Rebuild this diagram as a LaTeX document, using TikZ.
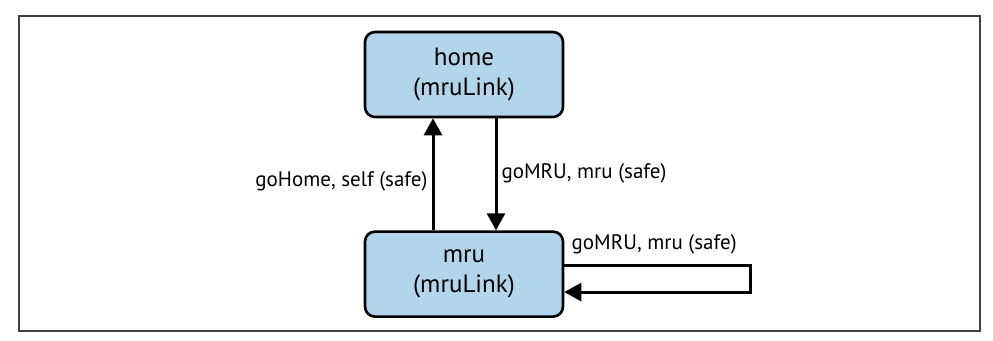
\documentclass[tikz,border=0pt]{standalone}
\usepackage{fontspec}
\setmainfont{PT Sans}
\usepackage{tikz}
\usetikzlibrary{arrows.meta,positioning}
\definecolor{statefill}{HTML}{B3D5EC}

\begin{document}
\begin{tikzpicture}[
  x=0.5pt, y=-0.5pt,
  node distance=56pt,
  state/.style={
    rectangle, draw, line width=1.3pt, rounded corners=5pt,
    fill=statefill, minimum width=99pt, minimum height=42.5pt,
    align=center, font=\fontsize{12.5}{15}\selectfont, inner sep=0pt
  },
  arrow/.style={-{Triangle[width=9pt,length=8.5pt]}, line width=1.5pt},
  label/.style={font=\fontsize{10.5}{12}\selectfont, inner sep=2pt}
]
% Frame and canvas
\useasboundingbox (0,0) rectangle (993,341);
\draw[line width=1pt, black!75] (19,16) rectangle (980,331);

% States
\node[state] (home) at (464,74.5) {home\\(mruLink)};
\node[state, below=of home] (mru) {mru\\(mruLink)};

% Arrows
\draw[arrow] ([xshift=-15.5pt]mru.north) -- ([xshift=-15.5pt]home.south)
  node[midway, left, label, yshift=-3.5pt] {goHome, self (safe)};
\draw[arrow] ([xshift=16pt]home.south) -- ([xshift=16pt]mru.north)
  node[midway, right, label, yshift=0.5pt] {goMRU, mru (safe)};

% Self loop on mru
\coordinate (loop) at (750,0);
\draw[arrow] ([yshift=4.5pt]mru.east) -- ([yshift=4.5pt]mru.east -| loop)
  |- ([yshift=-9pt]mru.east);
\node[label, anchor=west] (looplbl) at ([xshift=1.5pt,yshift=15pt]mru.east) {goMRU, mru (safe)};

\end{tikzpicture}
\end{document}
